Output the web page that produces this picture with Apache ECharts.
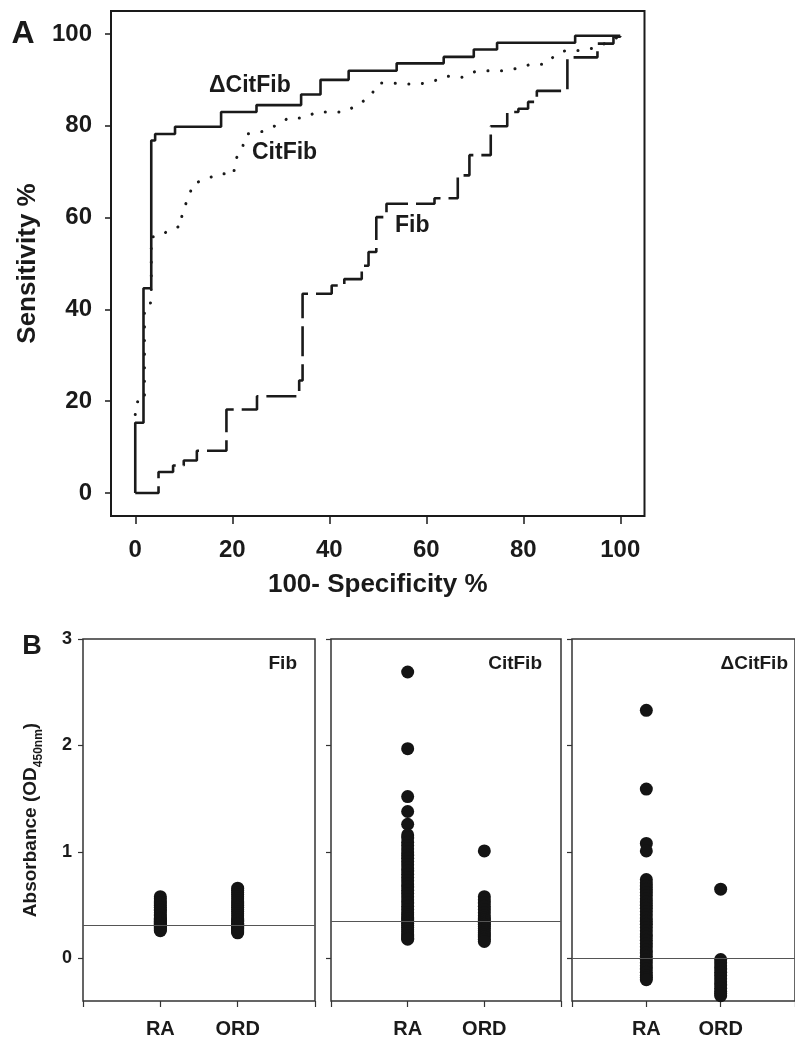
<!DOCTYPE html>
<html><head><meta charset="utf-8">
<script src="https://cdn.jsdelivr.net/npm/echarts@6/dist/echarts.min.js"></script>
<style>html,body{margin:0;padding:0;background:#fff}#c{width:795px;height:1039px}</style>
</head><body><div id="c"></div><script>
// ---- Panel A: ROC curves (x = 100-specificity %, y = sensitivity %) ----
const rocTicks = [0, 20, 40, 60, 80, 100];
const rocDeltaCitFib = [[0,0],[0,15.3],[1.7,44.6],[3.3,76.8],[4.1,78.2],[8.2,79.8],[17.7,83.0],[25.0,84.5],[34.2,86.8],[38.2,90.0],[44.0,92.0],[53.9,93.6],[63.6,95.0],[69.8,96.6],[74.6,98.1],[90.7,99.6],[100,99.6]];
const rocCitFib = [[0,17.1],[0.35,19.9],[1.9,19.9],[1.9,40.0],[3.1,40.8],[3.3,43.8],[3.3,55.8],[4.7,55.8],[7.6,57.6],[9.6,58.2],[9.6,61.3],[11.1,64.4],[11.8,67.3],[14.6,68.4],[17.5,69.6],[20.3,69.4],[20.6,72.5],[22.0,75.0],[23.0,78.2],[26.0,78.7],[28.9,80.0],[31.6,81.7],[34.6,81.7],[37.5,83.0],[40.2,83.0],[43.0,83.0],[45.9,84.5],[48.5,86.5],[50.2,89.3],[53.0,89.3],[55.7,89.1],[58.6,89.1],[61.5,89.7],[64.2,90.8],[67.2,90.5],[70.1,91.8],[73.1,92.0],[76.0,92.0],[78.8,92.5],[81.6,93.4],[84.5,93.4],[86.1,94.9],[88.7,96.4],[91.5,96.4],[94.5,96.9],[97.5,98.2],[100,99.6]];
const rocFib = [[0,0],[4.8,4.6],[7.8,6.0],[10.0,7.1],[12.7,9.2],[18.8,18.2],[25.1,21.1],[33.8,24.5],[34.5,43.4],[40.5,45.2],[43.1,46.6],[46.7,49.5],[48.1,52.5],[49.7,60.1],[51.8,63.0],[61.7,64.2],[66.5,69.2],[68.9,73.6],[73.3,79.9],[76.7,83.0],[79.0,83.7],[81.0,85.2],[82.8,87.6],[89.1,94.9],[95.3,97.9],[98.6,99.4],[100,99.6]];
const rocLabels = ['ΔCitFib', 'CitFib', 'Fib'];

// ---- Panel B: absorbance scatter ----
const groups = ['RA', 'ORD'];
const absTicks = [0, 1, 2, 3];
const panelTitles = ['Fib', 'CitFib', 'ΔCitFib'];
const fibRA = [0.58,0.56,0.54,0.52,0.50,0.48,0.46,0.45,0.43,0.41,0.40,0.38,0.37,0.36,0.35,0.34,0.33,0.32,0.31,0.30,0.29,0.28,0.27,0.26];
const fibORD = [0.66,0.64,0.62,0.60,0.58,0.56,0.54,0.52,0.50,0.48,0.46,0.44,0.42,0.40,0.38,0.36,0.35,0.33,0.32,0.30,0.29,0.28,0.27,0.26,0.25,0.24];
const citRA = [2.69,1.97,1.52,1.38,1.26,1.16,1.13,1.09,1.06,1.03,1.00,0.97,0.94,0.91,0.88,0.85,0.82,0.79,0.76,0.73,0.70,0.67,0.64,0.61,0.58,0.55,0.52,0.49,0.46,0.43,0.41,0.39,0.37,0.35,0.33,0.31,0.29,0.27,0.25,0.23,0.21,0.19,0.18];
const citORD = [1.01,0.58,0.55,0.52,0.49,0.46,0.43,0.40,0.38,0.36,0.34,0.32,0.30,0.28,0.26,0.24,0.22,0.20,0.18,0.16];
const dCitRA = [2.33,1.59,1.08,1.01,0.74,0.71,0.68,0.65,0.62,0.59,0.56,0.53,0.50,0.47,0.44,0.41,0.38,0.35,0.32,0.29,0.26,0.23,0.20,0.17,0.14,0.11,0.08,0.05,0.02,-0.01,-0.04,-0.07,-0.10,-0.13,-0.16,-0.18,-0.20];
const dCitORD = [0.65,-0.01,-0.04,-0.07,-0.10,-0.13,-0.16,-0.19,-0.22,-0.25,-0.28,-0.31,-0.33,-0.35];
const cutoffs = [0.31, 0.35, 0.0];

const FONT = '"Liberation Sans", Arial, sans-serif';
const INK = '#1a1a1a';
const panelData = [[fibRA, fibORD], [citRA, citORD], [dCitRA, dCitORD]];

const chart = echarts.init(document.getElementById('c'), null, {renderer: 'canvas'});

const grids = [
  {left: 111, top: 11, width: 533.5, height: 505, show: true, borderColor: INK, borderWidth: 2},
  {left: 83, top: 639, width: 232, height: 363, show: true, borderColor: '#333', borderWidth: 1.5},
  {left: 331, top: 639, width: 230, height: 363, show: true, borderColor: '#333', borderWidth: 1.5},
  {left: 572, top: 639, width: 232, height: 363, show: true, borderColor: '#333', borderWidth: 1.5}
];

const xAxes = [{
  gridIndex: 0, type: 'value', min: -5, max: 105,
  axisLine: {show: false, onZero: false}, splitLine: {show: false},
  axisTick: {show: true, customValues: rocTicks, length: 8, lineStyle: {color: INK, width: 1.5}},
  axisLabel: {customValues: rocTicks, fontSize: 24, fontWeight: 'bold', color: INK, margin: 22, fontFamily: FONT},
  name: '100- Specificity %', nameLocation: 'middle', nameGap: 56,
  nameTextStyle: {fontSize: 26, fontWeight: 'bold', color: INK, fontFamily: FONT}
}];
const yAxes = [{
  gridIndex: 0, type: 'value', min: -5, max: 105,
  axisLine: {show: false, onZero: false}, splitLine: {show: false},
  axisTick: {show: true, customValues: rocTicks, length: 6, lineStyle: {color: INK, width: 1.5}},
  axisLabel: {customValues: rocTicks, fontSize: 24, fontWeight: 'bold', color: INK, margin: 19, fontFamily: FONT},
  name: 'Sensitivity %', nameLocation: 'middle', nameGap: 64, nameRotate: 90,
  nameTextStyle: {fontSize: 26, fontWeight: 'bold', color: INK, fontFamily: FONT}
}];
for (let i = 1; i <= 3; i++) {
  xAxes.push({
    gridIndex: i, type: 'value', min: 0, max: 3,
    axisLine: {show: false, onZero: false}, splitLine: {show: false},
    axisTick: {show: true, customValues: absTicks, length: 6, lineStyle: {color: '#333', width: 1.2}},
    axisLabel: {customValues: [1, 2], formatter: v => groups[Math.round(v) - 1] || '',
      fontSize: 20, fontWeight: 'bold', color: INK, margin: 18, fontFamily: FONT}
  });
  const ya = {
    gridIndex: i, type: 'value', min: -0.4, max: 3,
    axisLine: {show: false, onZero: false}, splitLine: {show: false},
    axisTick: {show: true, customValues: absTicks, length: 5, lineStyle: {color: '#333', width: 1.2}},
    axisLabel: {show: i === 1, customValues: absTicks, fontSize: 18, fontWeight: 'bold', color: INK, margin: 11, fontFamily: FONT}
  };
  if (i === 1) {
    ya.name = '{n|Absorbance (OD}{s|450nm}{n|)}';
    ya.nameLocation = 'middle';
    ya.nameGap = 40;
    ya.nameRotate = 90;
    ya.nameTextStyle = {rich: {
      n: {fontSize: 19, fontWeight: 'bold', color: INK, fontFamily: FONT, lineHeight: 22, verticalAlign: 'top'},
      s: {fontSize: 12, fontWeight: 'bold', color: INK, fontFamily: FONT, lineHeight: 12, padding: [12, 0, 0, 0], verticalAlign: 'top'}
    }};
  }
  yAxes.push(ya);
}

const series = [
  {type: 'line', xAxisIndex: 0, yAxisIndex: 0, data: rocFib, step: 'end', showSymbol: false, symbol: 'none',
   lineStyle: {color: INK, width: 2.6, type: [30, 8]}, z: 2},
  {type: 'line', xAxisIndex: 0, yAxisIndex: 0, data: rocCitFib, showSymbol: false, symbol: 'none',
   lineStyle: {color: INK, width: 3.0, type: [0.1, 13.5], cap: 'round'}, z: 2},
  {type: 'line', xAxisIndex: 0, yAxisIndex: 0, data: rocDeltaCitFib, step: 'end', showSymbol: false, symbol: 'none',
   lineStyle: {color: INK, width: 2.6}, z: 3}
];
for (let i = 0; i < 3; i++) {
  const [ra, ord] = panelData[i];
  series.push({
    type: 'line', xAxisIndex: i + 1, yAxisIndex: i + 1, data: [], z: 1,
    markLine: {silent: true, symbol: 'none', animation: false, label: {show: false},
      lineStyle: {color: '#555', width: 1.2, type: 'solid'}, data: [{yAxis: cutoffs[i]}]}
  });
  series.push({
    type: 'scatter', xAxisIndex: i + 1, yAxisIndex: i + 1, z: 3, symbolSize: 13,
    itemStyle: {color: '#141414', opacity: 1},
    data: ra.map(v => [1, v]).concat(ord.map(v => [2, v]))
  });
}

const graphic = [
  {type: 'text', x: 23, y: 34, style: {text: 'A', font: 'bold 32px ' + FONT, fill: INK, align: 'center', verticalAlign: 'middle'}},
  {type: 'text', x: 32, y: 647, style: {text: 'B', font: 'bold 27px ' + FONT, fill: INK, align: 'center', verticalAlign: 'middle'}},
  {type: 'text', x: 209, y: 86, style: {text: rocLabels[0], font: 'bold 23px ' + FONT, fill: INK, align: 'left', verticalAlign: 'middle'}},
  {type: 'text', x: 252, y: 153, style: {text: rocLabels[1], font: 'bold 23px ' + FONT, fill: INK, align: 'left', verticalAlign: 'middle'}},
  {type: 'text', x: 395, y: 226, style: {text: rocLabels[2], font: 'bold 23px ' + FONT, fill: INK, align: 'left', verticalAlign: 'middle'}},
  {type: 'text', x: 297, y: 664, style: {text: panelTitles[0], font: 'bold 19px ' + FONT, fill: INK, align: 'right', verticalAlign: 'middle'}},
  {type: 'text', x: 542, y: 664, style: {text: panelTitles[1], font: 'bold 19px ' + FONT, fill: INK, align: 'right', verticalAlign: 'middle'}},
  {type: 'text', x: 788, y: 664, style: {text: panelTitles[2], font: 'bold 19px ' + FONT, fill: INK, align: 'right', verticalAlign: 'middle'}}
];

chart.setOption({
  animation: false,
  backgroundColor: '#fff',
  grid: grids, xAxis: xAxes, yAxis: yAxes, series: series, graphic: graphic
});
</script></body></html>
